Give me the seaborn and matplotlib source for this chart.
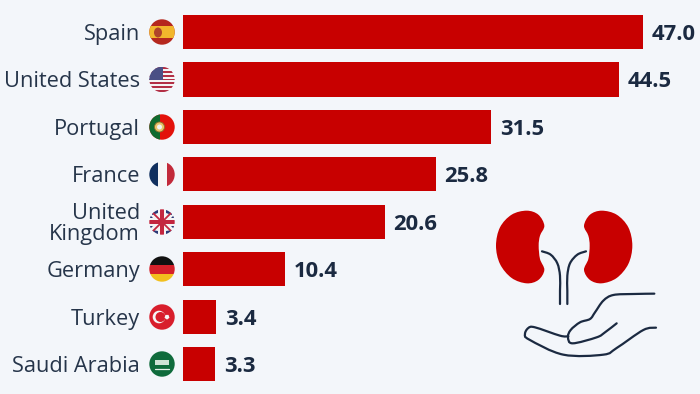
"""Kidney transplants per million people: horizontal bars with flags and icon."""

import matplotlib
matplotlib.use("Agg")
import matplotlib.pyplot as plt
import matplotlib.patches as mpatches
from matplotlib.path import Path
import pandas as pd
import seaborn as sns

COUNTRIES = ["Spain", "United States", "Portugal", "France", "United\nKingdom",
             "Germany", "Turkey", "Saudi Arabia"]
VALUES = [47.0, 44.5, 31.5, 25.8, 20.6, 10.4, 3.4, 3.3]

BG = "#f3f6fa"
RED = "#c80000"
INK = "#1b2a41"
LABEL = "#26354a"

W, H = 700, 394
sns.set_theme(style="white")
plt.rcParams["font.family"] = ["Open Sans", "DejaVu Sans"]

fig = plt.figure(figsize=(W / 100, H / 100), dpi=100, facecolor=BG)
ax = fig.add_axes([183 / W, 0, (W - 183) / W, 1], facecolor="none")

df = pd.DataFrame({"country": COUNTRIES, "value": VALUES})
sns.barplot(data=df, y="country", x="value", color=RED, saturation=1, width=0.72,
            linewidth=0, ax=ax)

ax.set_xlim(0, (W - 183) / (460 / 47.0))
ax.set_ylim(7.63, -0.675)
ax.set_xlabel("")
ax.set_ylabel("")
ax.set_xticks([])
sns.despine(ax=ax, left=True, bottom=True)
ax.tick_params(axis="y", length=0, pad=31)
plt.setp(ax.get_yticklabels(), fontsize=15.7, color=LABEL, linespacing=1.0)
value_labels = ax.bar_label(ax.containers[0], fmt="%.1f", padding=6.5, fontsize=15.8,
                            fontweight="bold", color=INK)
for t in value_labels:
    t.set_va("center_baseline")

# overlay in pixel coordinates for the flags and the icon
ov = fig.add_axes([0, 0, 1, 1], facecolor="none")
ov.set_xlim(0, W)
ov.set_ylim(H, 0)
ov.axis("off")


def flag(cy, parts):
    """Draw rectangles (x0, y0, x1, y1, colour), relative to a unit box, clipped to a disc."""
    cx, r = 162, 12.7
    disc = mpatches.Circle((cx, cy), r, transform=ov.transData, fc="none", ec="none")
    ov.add_patch(disc)
    for x0, y0, x1, y1, c in parts:
        p = mpatches.Rectangle((cx - r + 2 * r * x0, cy - r + 2 * r * y0),
                               2 * r * (x1 - x0), 2 * r * (y1 - y0), fc=c, ec="none")
        ov.add_patch(p)
        p.set_clip_path(disc)
    return cx, cy, r, disc


# Spain
cx, cy, r, disc = flag(32, [(0, 0, 1, 1, "#b5281e"), (0, 0.25, 1, 0.75, "#f2b72c")])
ov.add_patch(mpatches.Ellipse((cx - 4, cy + 0.5), 8, 10, fc="#b0432a", ec="none"))

# United States
stripes = [(0, 0, 1, 1, "#f4f4f4")]
for k in range(7):
    stripes.append((0, k * 2 / 13, 1, (k * 2 + 1) / 13, "#b22f45"))
stripes.append((0, 0, 0.55, 0.52, "#4a4f85"))
flag(79.5, stripes)

# Portugal
cx, cy, r, disc = flag(127, [(0, 0, 1, 1, "#e3120b"), (0, 0, 0.42, 1, "#0f6b2f")])
ov.add_patch(mpatches.Circle((cx - 2.5, cy), 5, fc="#e9c46a", ec="#8a6d2a", lw=0.6))
ov.add_patch(mpatches.Circle((cx - 2.5, cy), 2.5, fc="#f2f2f2", ec="none"))

# France
flag(174.5, [(0, 0, 0.34, 1, "#10305f"), (0.34, 0, 0.68, 1, "#f6f6f6"),
             (0.68, 0, 1, 1, "#c22a3a")])

# United Kingdom
cx, cy, r, disc = flag(222, [(0, 0, 1, 1, "#f4f4f4")])
for sx, sy in [(-1, -1), (1, -1), (-1, 1), (1, 1)]:
    tri = mpatches.Polygon([(cx + sx * 4, cy + sy * 9), (cx + sx * 4, cy + sy * 14),
                            (cx + sx * 10, cy + sy * 14), (cx + sx * 10, cy + sy * 7.5)],
                           fc="#2a3a78", ec="none")
    ov.add_patch(tri)
    tri.set_clip_path(disc)
    tri = mpatches.Polygon([(cx + sx * 9, cy + sy * 4), (cx + sx * 14, cy + sy * 4),
                            (cx + sx * 14, cy + sy * 9)], fc="#2a3a78", ec="none")
    ov.add_patch(tri)
    tri.set_clip_path(disc)
for dx in (-1, 1):
    ln, = ov.plot([cx - 12 * dx, cx + 12 * dx], [cy - 12, cy + 12], color="#c3263f", lw=1.3)
    ln.set_clip_path(disc)
for part in [mpatches.Rectangle((cx - 2.2, cy - r), 4.4, 2 * r, fc="#c3263f", ec="none"),
             mpatches.Rectangle((cx - r, cy - 2.2), 2 * r, 4.4, fc="#c3263f", ec="none")]:
    ov.add_patch(part)
    part.set_clip_path(disc)

# Germany
flag(269, [(0, 0, 1, 0.36, "#111111"), (0, 0.36, 1, 0.68, "#d5202a"),
           (0, 0.68, 1, 1, "#f2c01e")])

# Turkey
cx, cy, r, disc = flag(317, [(0, 0, 1, 1, "#d81e2c")])
ov.add_patch(mpatches.Circle((cx - 3, cy), 6.3, fc="#f6f6f6", ec="none"))
ov.add_patch(mpatches.Circle((cx - 1.5, cy), 5, fc="#d81e2c", ec="none"))
ov.add_patch(mpatches.RegularPolygon((cx + 5, cy), 5, radius=2.6, fc="#f6f6f6", ec="none"))

# Saudi Arabia
cx, cy, r, disc = flag(364, [(0, 0, 1, 1, "#0f6b3c")])
ov.add_patch(mpatches.Rectangle((cx - 7, cy - 4), 14, 5, fc="#cfe3d6", ec="none"))
ov.plot([cx - 7, cx + 7], [cy + 5, cy + 5], color="#e6f0ea", lw=0.9)


def zp(x, y):
    return 480 + x / 3, 194 + y / 3


def curve(points, closed=False, **kw):
    """Smooth path through crop points using cubic segments (Catmull-Rom handles)."""
    pts = [zp(*p) for p in points]
    n = len(pts)
    verts = [pts[0]]
    codes = [Path.MOVETO]
    segs = n if closed else n - 1
    for i in range(segs):
        if closed:
            p0, p1, p2, p3 = pts[i - 1], pts[i], pts[(i + 1) % n], pts[(i + 2) % n]
        else:
            p0, p1 = pts[max(i - 1, 0)], pts[i]
            p2, p3 = pts[i + 1], pts[min(i + 2, n - 1)]
        c1 = (p1[0] + (p2[0] - p0[0]) / 6, p1[1] + (p2[1] - p0[1]) / 6)
        c2 = (p2[0] - (p3[0] - p1[0]) / 6, p2[1] - (p3[1] - p1[1]) / 6)
        verts += [c1, c2, p2]
        codes += [Path.CURVE4] * 3
    ov.add_patch(mpatches.PathPatch(Path(verts, codes), **kw))


KIDNEY = [(140, 50), (175, 62), (193, 95), (180, 125), (176, 155), (180, 195), (193, 228),
          (175, 258), (140, 268), (95, 252), (60, 210), (48, 155), (60, 100), (95, 62)]
curve(KIDNEY, closed=True, fc=RED, ec="none")
curve([(505 - x, y) for x, y in KIDNEY], closed=True, fc=RED, ec="none")

LINE = dict(fc="none", ec=INK, lw=1.6, capstyle="round")
curve([(186, 172), (212, 182), (232, 208), (240, 245), (240, 290), (240, 330)], **LINE)
curve([(318, 172), (292, 182), (270, 208), (262, 245), (262, 290), (262, 330)], **LINE)
curve([(523, 299), (460, 300), (400, 303), (370, 320), (345, 355), (330, 375), (300, 385),
       (272, 408), (264, 430), (278, 448), (350, 430), (375, 415), (410, 388)], **LINE)
curve([(265, 427), (240, 425), (165, 400), (145, 402), (135, 420), (148, 437), (250, 482),
       (370, 482), (410, 462), (490, 408), (528, 401)], **LINE)

fig.savefig("out.png", dpi=100, facecolor=BG)
